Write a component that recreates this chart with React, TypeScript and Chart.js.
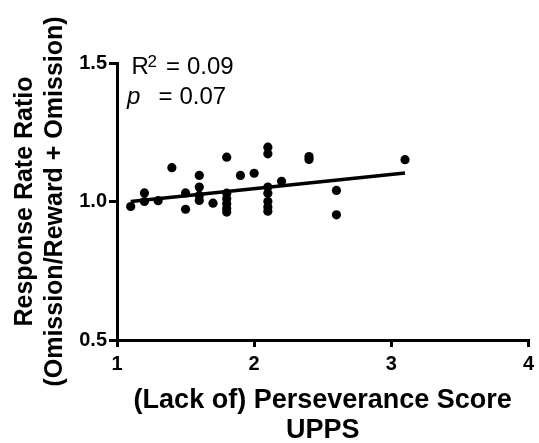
import React, { useEffect, useRef } from "react";
import { Chart, registerables } from "chart.js";

Chart.register(...registerables);

// ---- data ----
const scoreX = [
  1.1, 1.2, 1.2, 1.3, 1.4, 1.5, 1.5, 1.6, 1.6, 1.6, 1.6, 1.7,
  1.8, 1.8, 1.8, 1.8, 1.8, 1.8, 1.9, 2.0,
  2.1, 2.1, 2.1, 2.1, 2.1, 2.1, 2.1, 2.2, 2.4, 2.4, 2.6, 2.6, 3.1,
];
const ratioY = [
  0.982, 1.031, 1.0, 1.003, 1.122, 1.031, 0.972, 1.094, 1.052, 1.022, 1.004, 0.994,
  1.16, 1.03, 1.01, 0.992, 0.975, 0.962, 1.094, 1.102,
  1.196, 1.172, 1.052, 1.03, 1.0, 0.98, 0.965, 1.073, 1.162, 1.152, 1.04, 0.952, 1.151,
];
const fitX = [1.1, 3.1];
const fitY = [1.0, 1.103];
const xTicks = [1, 2, 3, 4];
const yTicks = [0.5, 1.0, 1.5];
const xTitle = ["(Lack of) Perseverance Score", "UPPS"];
const yTitle = ["Response Rate Ratio", "(Omission/Reward + Omission)"];
const statR2 = "0.09";
const statP = "0.07";

const FONT = '"Liberation Sans", Arial, Helvetica, sans-serif';

const statsPlugin = {
  id: "stats",
  afterDraw(chart: any) {
    const { ctx, chartArea } = chart;
    const L = chartArea.left;
    const T = chartArea.top;
    ctx.save();
    ctx.fillStyle = "#000";
    ctx.textBaseline = "alphabetic";
    ctx.textAlign = "left";
    const b1 = T + 10.5;
    const b2 = T + 40.5;
    ctx.font = `24px ${FONT}`;
    ctx.fillText("R", L + 14.5, b1);
    ctx.font = `17px ${FONT}`;
    ctx.fillText("2", L + 30.5, b1 - 7);
    ctx.font = `24px ${FONT}`;
    ctx.fillText("=", L + 49, b1);
    ctx.fillText(statR2, L + 70, b1);
    ctx.font = `italic 24px ${FONT}`;
    ctx.fillText("p", L + 10, b2);
    ctx.font = `24px ${FONT}`;
    ctx.fillText("=", L + 41.5, b2);
    ctx.fillText(statP, L + 62.5, b2);
    ctx.restore();
  },
};

export default function App() {
  const ref = useRef<HTMLCanvasElement | null>(null);

  useEffect(() => {
    if (!ref.current) return;
    Chart.defaults.font.family = FONT;
    const points = scoreX.map((x, i) => ({ x, y: ratioY[i] }));
    const fit = fitX.map((x, i) => ({ x, y: fitY[i] }));
    const chart = new Chart(ref.current, {
      type: "scatter",
      data: {
        datasets: [
          {
            data: fit,
            showLine: true,
            borderColor: "#000",
            borderWidth: 3.5,
            pointRadius: 0,
            pointHoverRadius: 0,
            order: 2,
          } as any,
          {
            data: points,
            backgroundColor: "#000",
            borderColor: "#000",
            pointRadius: 4.6,
            pointBorderWidth: 0,
            order: 1,
          },
        ],
      },
      options: {
        animation: false,
        responsive: false,
        maintainAspectRatio: false,
        events: [],
        layout: { padding: { top: 63, right: 9, left: 0, bottom: 0 } },
        plugins: {
          legend: { display: false },
          tooltip: { enabled: false },
        },
        scales: {
          x: {
            type: "linear",
            min: 1,
            max: 4,
            afterBuildTicks: (s: any) => {
              s.ticks = xTicks.map((v) => ({ value: v }));
            },
            afterFit: (s: any) => {
              s.height = 103;
            },
            border: { display: true, color: "#000", width: 3 },
            grid: {
              display: true,
              drawOnChartArea: false,
              drawTicks: true,
              tickLength: 7,
              color: "#000",
              lineWidth: 3,
            },
            ticks: {
              color: "#000",
              font: { size: 20, weight: "bold" },
              padding: 5,
              maxRotation: 0,
              callback: (v: any) => String(v),
            },
            title: {
              display: true,
              text: xTitle,
              color: "#000",
              font: { size: 27, weight: "bold", lineHeight: "30px" },
              padding: { top: 0, bottom: -3 },
            },
          },
          y: {
            type: "linear",
            min: 0.5,
            max: 1.5,
            afterBuildTicks: (s: any) => {
              s.ticks = yTicks.map((v) => ({ value: v }));
            },
            afterFit: (s: any) => {
              s.width = 117;
            },
            border: { display: true, color: "#000", width: 3 },
            grid: {
              display: true,
              drawOnChartArea: false,
              drawTicks: true,
              tickLength: 8,
              color: "#000",
              lineWidth: 3,
            },
            ticks: {
              color: "#000",
              font: { size: 20, weight: "bold" },
              padding: 2,
              callback: (v: any) => Number(v).toFixed(1),
            },
            title: {
              display: true,
              text: yTitle,
              color: "#000",
              font: { size: 25, weight: "bold", lineHeight: "30px" },
              padding: { top: 10, bottom: 0 },
            },
          },
        },
      } as any,
      plugins: [statsPlugin],
    });
    return () => chart.destroy();
  }, []);

  return (
    <div
      style={{
        position: "fixed",
        left: 0,
        top: 0,
        width: 539,
        height: 443,
        background: "#fff",
      }}
    >
      <canvas ref={ref} width={539} height={443} style={{ display: "block" }} />
    </div>
  );
}
